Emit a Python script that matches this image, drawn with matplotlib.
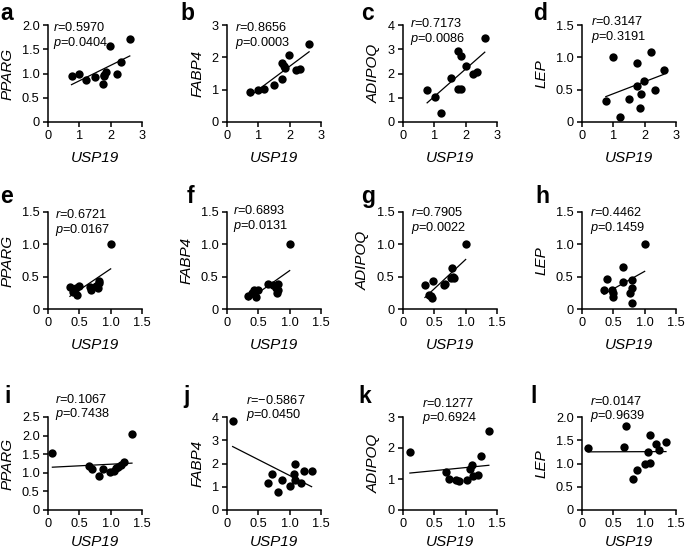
import numpy as np
import matplotlib.pyplot as plt
from matplotlib.ticker import FuncFormatter

plt.rcParams['font.family'] = ['Liberation Sans', 'DejaVu Sans']
plt.rcParams['mathtext.fontset'] = 'custom'
plt.rcParams['mathtext.it'] = 'Liberation Sans:italic'
plt.rcParams['mathtext.rm'] = 'Liberation Sans'

# panel letters, genes and statistics
letters = list('abcdefghijkl')
genes = ['PPARG', 'FABP4', 'ADIPOQ', 'LEP'] * 3
r_vals = ['0.5970', '0.8656', '0.7173', '0.3147',
          '0.6721', '0.6893', '0.7905', '0.4462',
          '0.1067', '\u22120.5867', '0.1277', '0.0147']
p_vals = ['0.0404', '0.0003', '0.0086', '0.3191',
          '0.0167', '0.0131', '0.0022', '0.1459',
          '0.7438', '0.0450', '0.6924', '0.9639']

# axis ranges
x_max = [3, 3, 3, 3, 1.5, 1.5, 1.5, 1.5, 1.5, 1.5, 1.5, 1.5]
x_step = [1, 1, 1, 1, 0.5, 0.5, 0.5, 0.5, 0.5, 0.5, 0.5, 0.5]
y_max = [2.0, 3, 4, 1.5, 1.5, 1.5, 1.5, 1.5, 2.5, 4, 3, 2.0]
y_step = [0.5, 1, 1, 0.5, 0.5, 0.5, 0.5, 0.5, 0.5, 1, 1, 0.5]

# row 1
a_x = [0.75, 1.00, 1.20, 1.50, 1.74, 1.78, 1.80, 1.84, 1.97, 2.20, 2.33, 2.61]
a_y = [0.95, 1.00, 0.86, 0.93, 0.79, 0.97, 0.94, 1.03, 1.57, 0.98, 1.23, 1.72]
b_x = [0.74, 0.98, 1.19, 1.51, 1.76, 1.76, 1.82, 1.85, 1.99, 2.20, 2.34, 2.62]
b_y = [0.92, 0.99, 1.02, 1.13, 1.32, 1.84, 1.72, 1.66, 2.08, 1.61, 1.64, 2.40]
c_x = [0.77, 1.02, 1.21, 1.53, 1.77, 1.86, 1.77, 1.85, 2.00, 2.23, 2.35, 2.61]
c_y = [1.31, 1.05, 0.39, 1.81, 2.92, 2.74, 1.36, 1.36, 2.32, 1.99, 2.08, 3.47]
d_x = [0.76, 1.00, 1.20, 1.49, 1.76, 1.77, 1.87, 1.84, 1.98, 2.20, 2.34, 2.61]
d_y = [0.32, 1.01, 0.07, 0.36, 0.92, 0.55, 0.43, 0.21, 0.63, 1.08, 0.50, 0.81]
# row 2
e_x = [0.35, 0.40, 0.45, 0.47, 0.49, 0.67, 0.68, 0.76, 0.80, 0.81, 0.82, 1.00]
e_y = [0.34, 0.27, 0.32, 0.21, 0.35, 0.34, 0.30, 0.35, 0.32, 0.40, 0.44, 1.00]
f_x = [0.34, 0.40, 0.43, 0.47, 0.50, 0.66, 0.73, 0.81, 0.81, 0.80, 0.78, 1.00]
f_y = [0.20, 0.25, 0.29, 0.18, 0.29, 0.38, 0.37, 0.38, 0.29, 0.24, 0.33, 1.00]
g_x = [0.35, 0.41, 0.47, 0.44, 0.48, 0.65, 0.67, 0.77, 0.78, 0.82, 0.80, 1.00]
g_y = [0.37, 0.22, 0.17, 0.20, 0.44, 0.37, 0.39, 0.48, 0.63, 0.48, 0.50, 1.00]
h_x = [0.35, 0.40, 0.48, 0.50, 0.49, 0.65, 0.65, 0.80, 0.80, 0.77, 0.80, 1.00]
h_y = [0.29, 0.46, 0.30, 0.18, 0.24, 0.41, 0.65, 0.45, 0.33, 0.25, 0.09, 1.00]
# row 3
i_x = [0.07, 0.65, 0.70, 0.82, 0.87, 0.99, 1.06, 1.09, 1.11, 1.16, 1.22, 1.34]
i_y = [1.52, 1.19, 1.10, 0.91, 1.10, 1.01, 1.04, 1.12, 1.16, 1.22, 1.29, 2.03]
j_x = [0.09, 0.65, 0.72, 0.82, 0.88, 1.00, 1.07, 1.08, 1.09, 1.18, 1.23, 1.35]
j_y = [3.81, 1.15, 1.54, 0.79, 1.27, 1.04, 1.55, 1.99, 1.29, 1.15, 1.68, 1.68]
k_x = [0.11, 0.68, 0.74, 0.85, 0.89, 1.02, 1.10, 1.07, 1.11, 1.19, 1.24, 1.37]
k_y = [1.87, 1.24, 1.00, 0.98, 0.93, 0.98, 1.44, 1.32, 1.11, 1.13, 1.74, 2.56]
l_x = [0.10, 0.67, 0.71, 1.09, 1.18, 1.34, 1.23, 1.06, 1.00, 1.09, 0.88, 0.82]
l_y = [1.34, 1.35, 1.80, 1.61, 1.41, 1.47, 1.29, 1.25, 0.99, 1.01, 0.87, 0.66]

xs = [a_x, b_x, c_x, d_x, e_x, f_x, g_x, h_x, i_x, j_x, k_x, l_x]
ys = [a_y, b_y, c_y, d_y, e_y, f_y, g_y, h_y, i_y, j_y, k_y, l_y]

# layout in pixels (figure is 685x550)
W, H = 685, 550
col_left = [48, 227, 403, 582]
row_bottom = [122, 309, 510]
row_height = [97, 97, 93]
ax_w = 94
xlabel_pad = [6, 6, 3.5]
stat_pos = [(0.05, 1.04), (0.085, 1.04), (0.07, 1.08), (0.10, 1.10),
            (0.075, 1.04), (0.06, 1.08), (0.09, 1.06), (0.08, 1.06),
            (0.075, 1.26), (0.20, 1.25), (0.20, 1.22), (0.085, 1.24)]
letter_pos = [(0, 2), (180, 2), (361, 2), (533, 2),
              (0, 185), (187, 185), (361, 185), (535, 185),
              (4, 385), (183, 385), (358, 385), (530, 385)]


def tick_fmt(step):
    def f(v, pos):
        if abs(v) < 1e-9:
            return '0'
        if step < 1:
            return '%.1f' % v
        return '%d' % round(v)
    return FuncFormatter(f)


fig = plt.figure(figsize=(6.85, 5.5), dpi=100)

for n in range(12):
    row, col = n // 4, n % 4
    ax = fig.add_axes([col_left[col] / W, 1 - row_bottom[row] / H,
                       ax_w / W, row_height[row] / H])
    x = np.array(xs[n])
    y = np.array(ys[n])
    ax.scatter(x, y, s=36, color='black', zorder=3, clip_on=False, linewidths=0)
    k, b = np.polyfit(x, y, 1)
    xx = np.array([x.min(), x.max()])
    ax.plot(xx, k * xx + b, color='black', lw=0.9, zorder=2)

    ax.set_xlim(0, x_max[n])
    ax.set_ylim(0, y_max[n])
    ax.set_xticks(np.arange(0, x_max[n] + 1e-6, x_step[n]))
    ax.set_yticks(np.arange(0, y_max[n] + 1e-6, y_step[n]))
    ax.xaxis.set_major_formatter(tick_fmt(x_step[n]))
    ax.yaxis.set_major_formatter(tick_fmt(y_step[n]))
    for s in ['top', 'right']:
        ax.spines[s].set_visible(False)
    for s in ['left', 'bottom']:
        ax.spines[s].set_linewidth(1.1)
    ax.tick_params(direction='out', length=3.5, width=1.1, pad=2.5,
                   labelsize=9.2, colors='black')
    ax.set_xlabel('USP19', fontsize=11, style='italic', labelpad=xlabel_pad[row])
    ax.set_ylabel(genes[n], fontsize=11, style='italic', labelpad=5)

    tx, ty = stat_pos[n]
    ax.text(tx, ty, '$r$=' + r_vals[n] + '\n' + '$p$=' + p_vals[n],
            transform=ax.transAxes, ha='left', va='top', fontsize=9.2,
            linespacing=1.05)

    lx, ly = letter_pos[n]
    fig.text(lx / W, 1 - ly / H, letters[n], fontsize=16.5,
             fontweight='bold', ha='left', va='top')

fig.savefig('out.png', dpi=100)
